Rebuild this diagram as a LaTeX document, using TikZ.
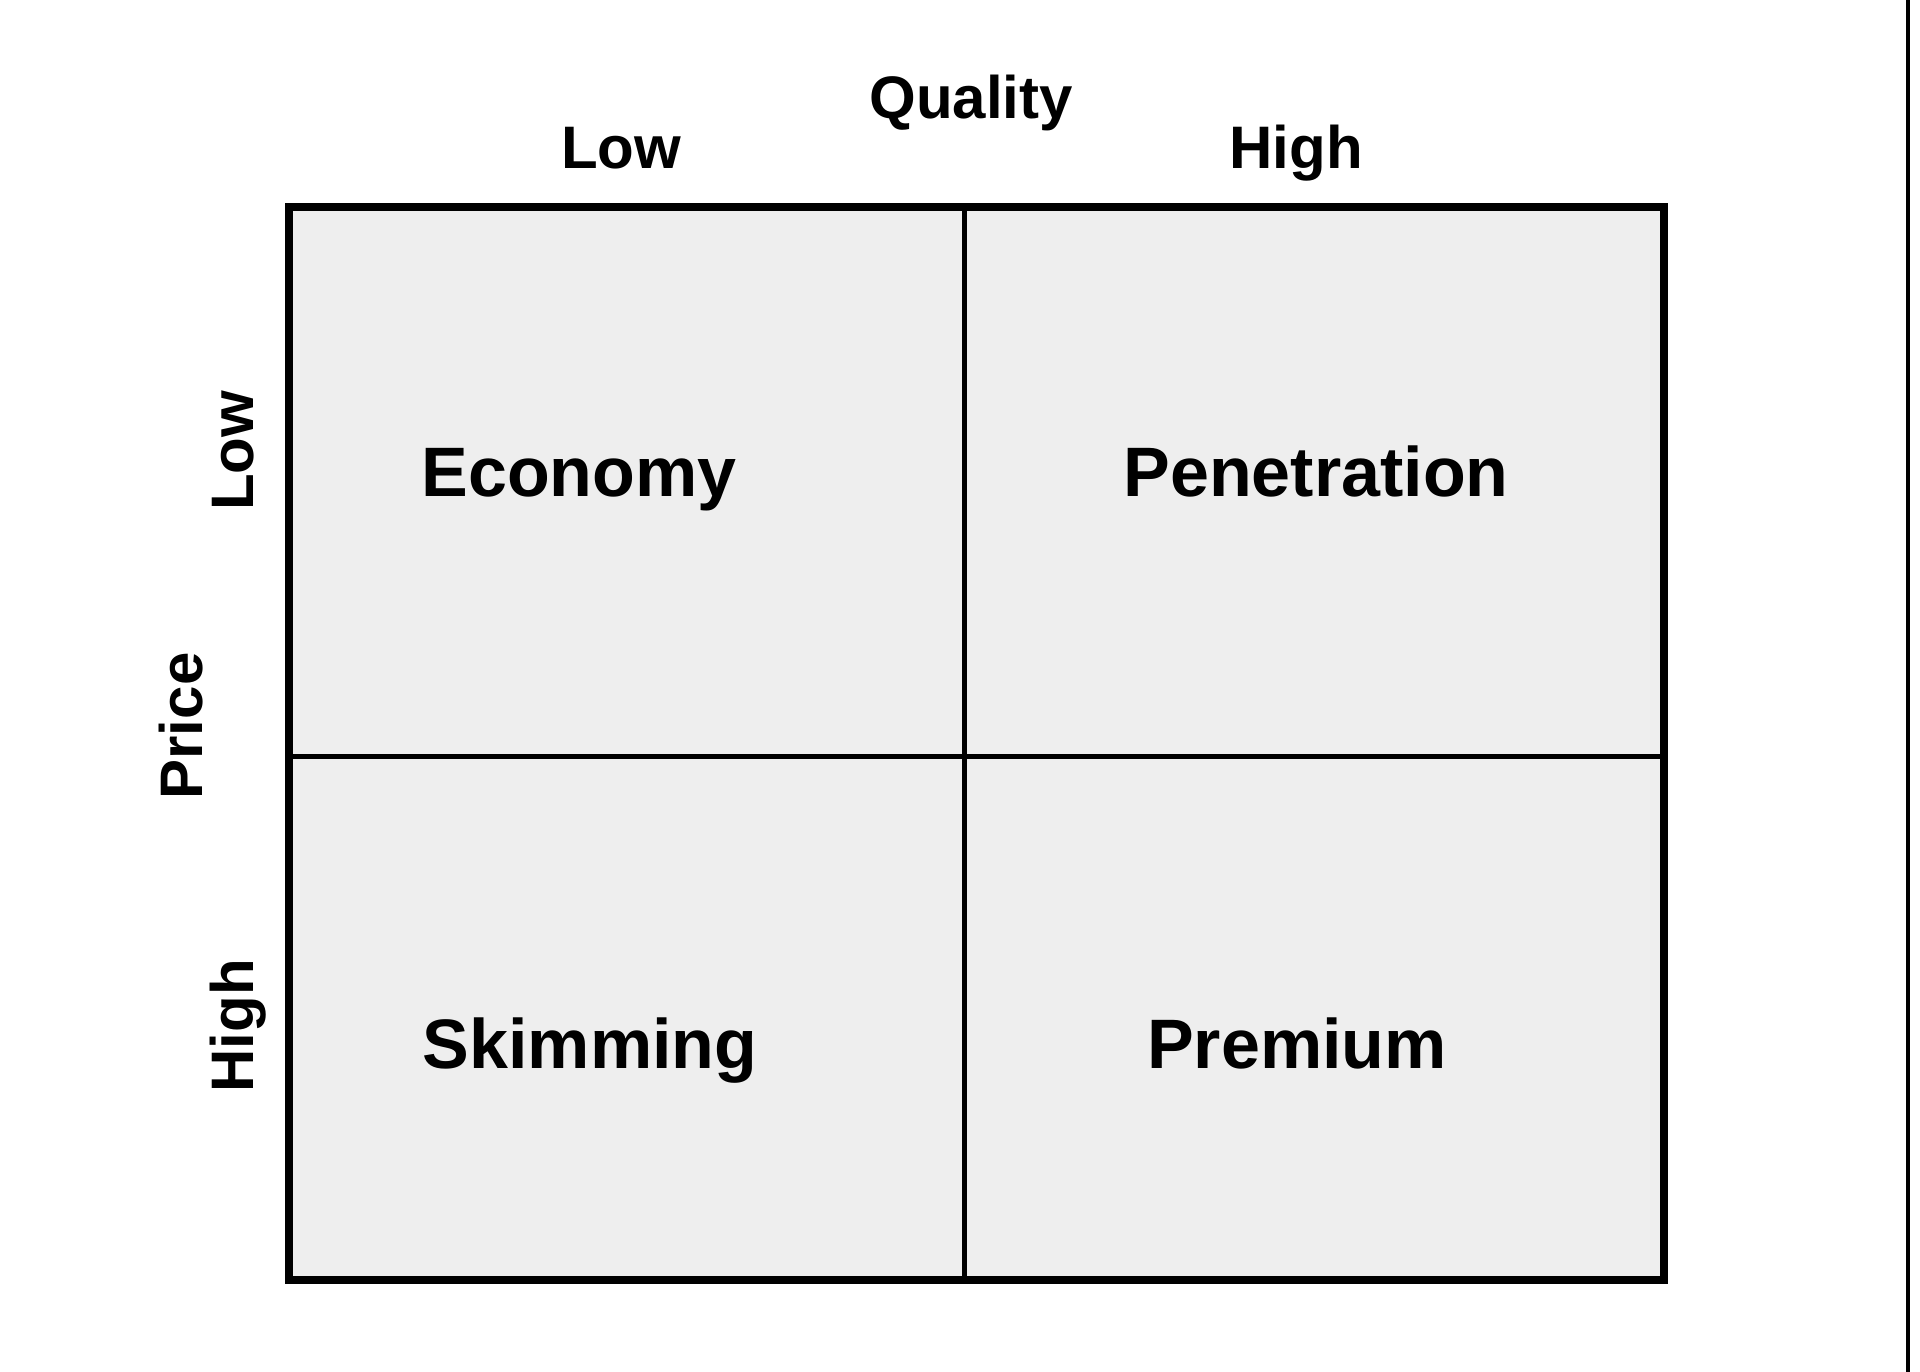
\documentclass[tikz,border=0pt]{standalone}
\usepackage{fontspec}
\setmainfont{Liberation Sans}
\begin{document}
\begin{tikzpicture}[x=1pt,y=-1pt,
  axislabel/.style={font=\fontsize{60}{72}\selectfont\bfseries, inner sep=0pt, anchor=base},
  quadlabel/.style={font=\fontsize{70}{84}\selectfont\bfseries, inner sep=0pt, anchor=base},
  frame/.style={line width=8pt, line join=miter},
  divider/.style={line width=5pt}]
\useasboundingbox (0,0) rectangle (1920,1372);
\fill[white] (0,0) rectangle (1920,1372);
% grid
\fill[fill={rgb,255:red,238;green,238;blue,238}] (289,207) rectangle (1664,1280);
\draw[divider] (964,207) -- (964,1280);
\draw[divider] (289,756) -- (1664,756);
\draw[frame] (289,207) rectangle (1664,1280);
% right edge line
\draw[line width=4pt] (1908,0) -- (1908,1372);
% axis labels
\node[axislabel] (quality) at (971,119) {Quality};
\node[axislabel] (qlow) at (621,169) {Low};
\node[axislabel] (qhigh) at (1296,169) {High};
\node[axislabel, rotate=90] (price) at (202,726) {Price};
\node[axislabel, rotate=90] (plow) at (253,451) {Low};
\node[axislabel, rotate=90] (phigh) at (253,1026) {High};
% quadrant labels
\node[quadlabel] (economy) at (579,496) {Economy};
\node[quadlabel] (penetration) at (1316,496) {Penetration};
\node[quadlabel] (skimming) at (590,1068) {Skimming};
\node[quadlabel] (premium) at (1297,1068) {Premium};
\end{tikzpicture}
\end{document}
